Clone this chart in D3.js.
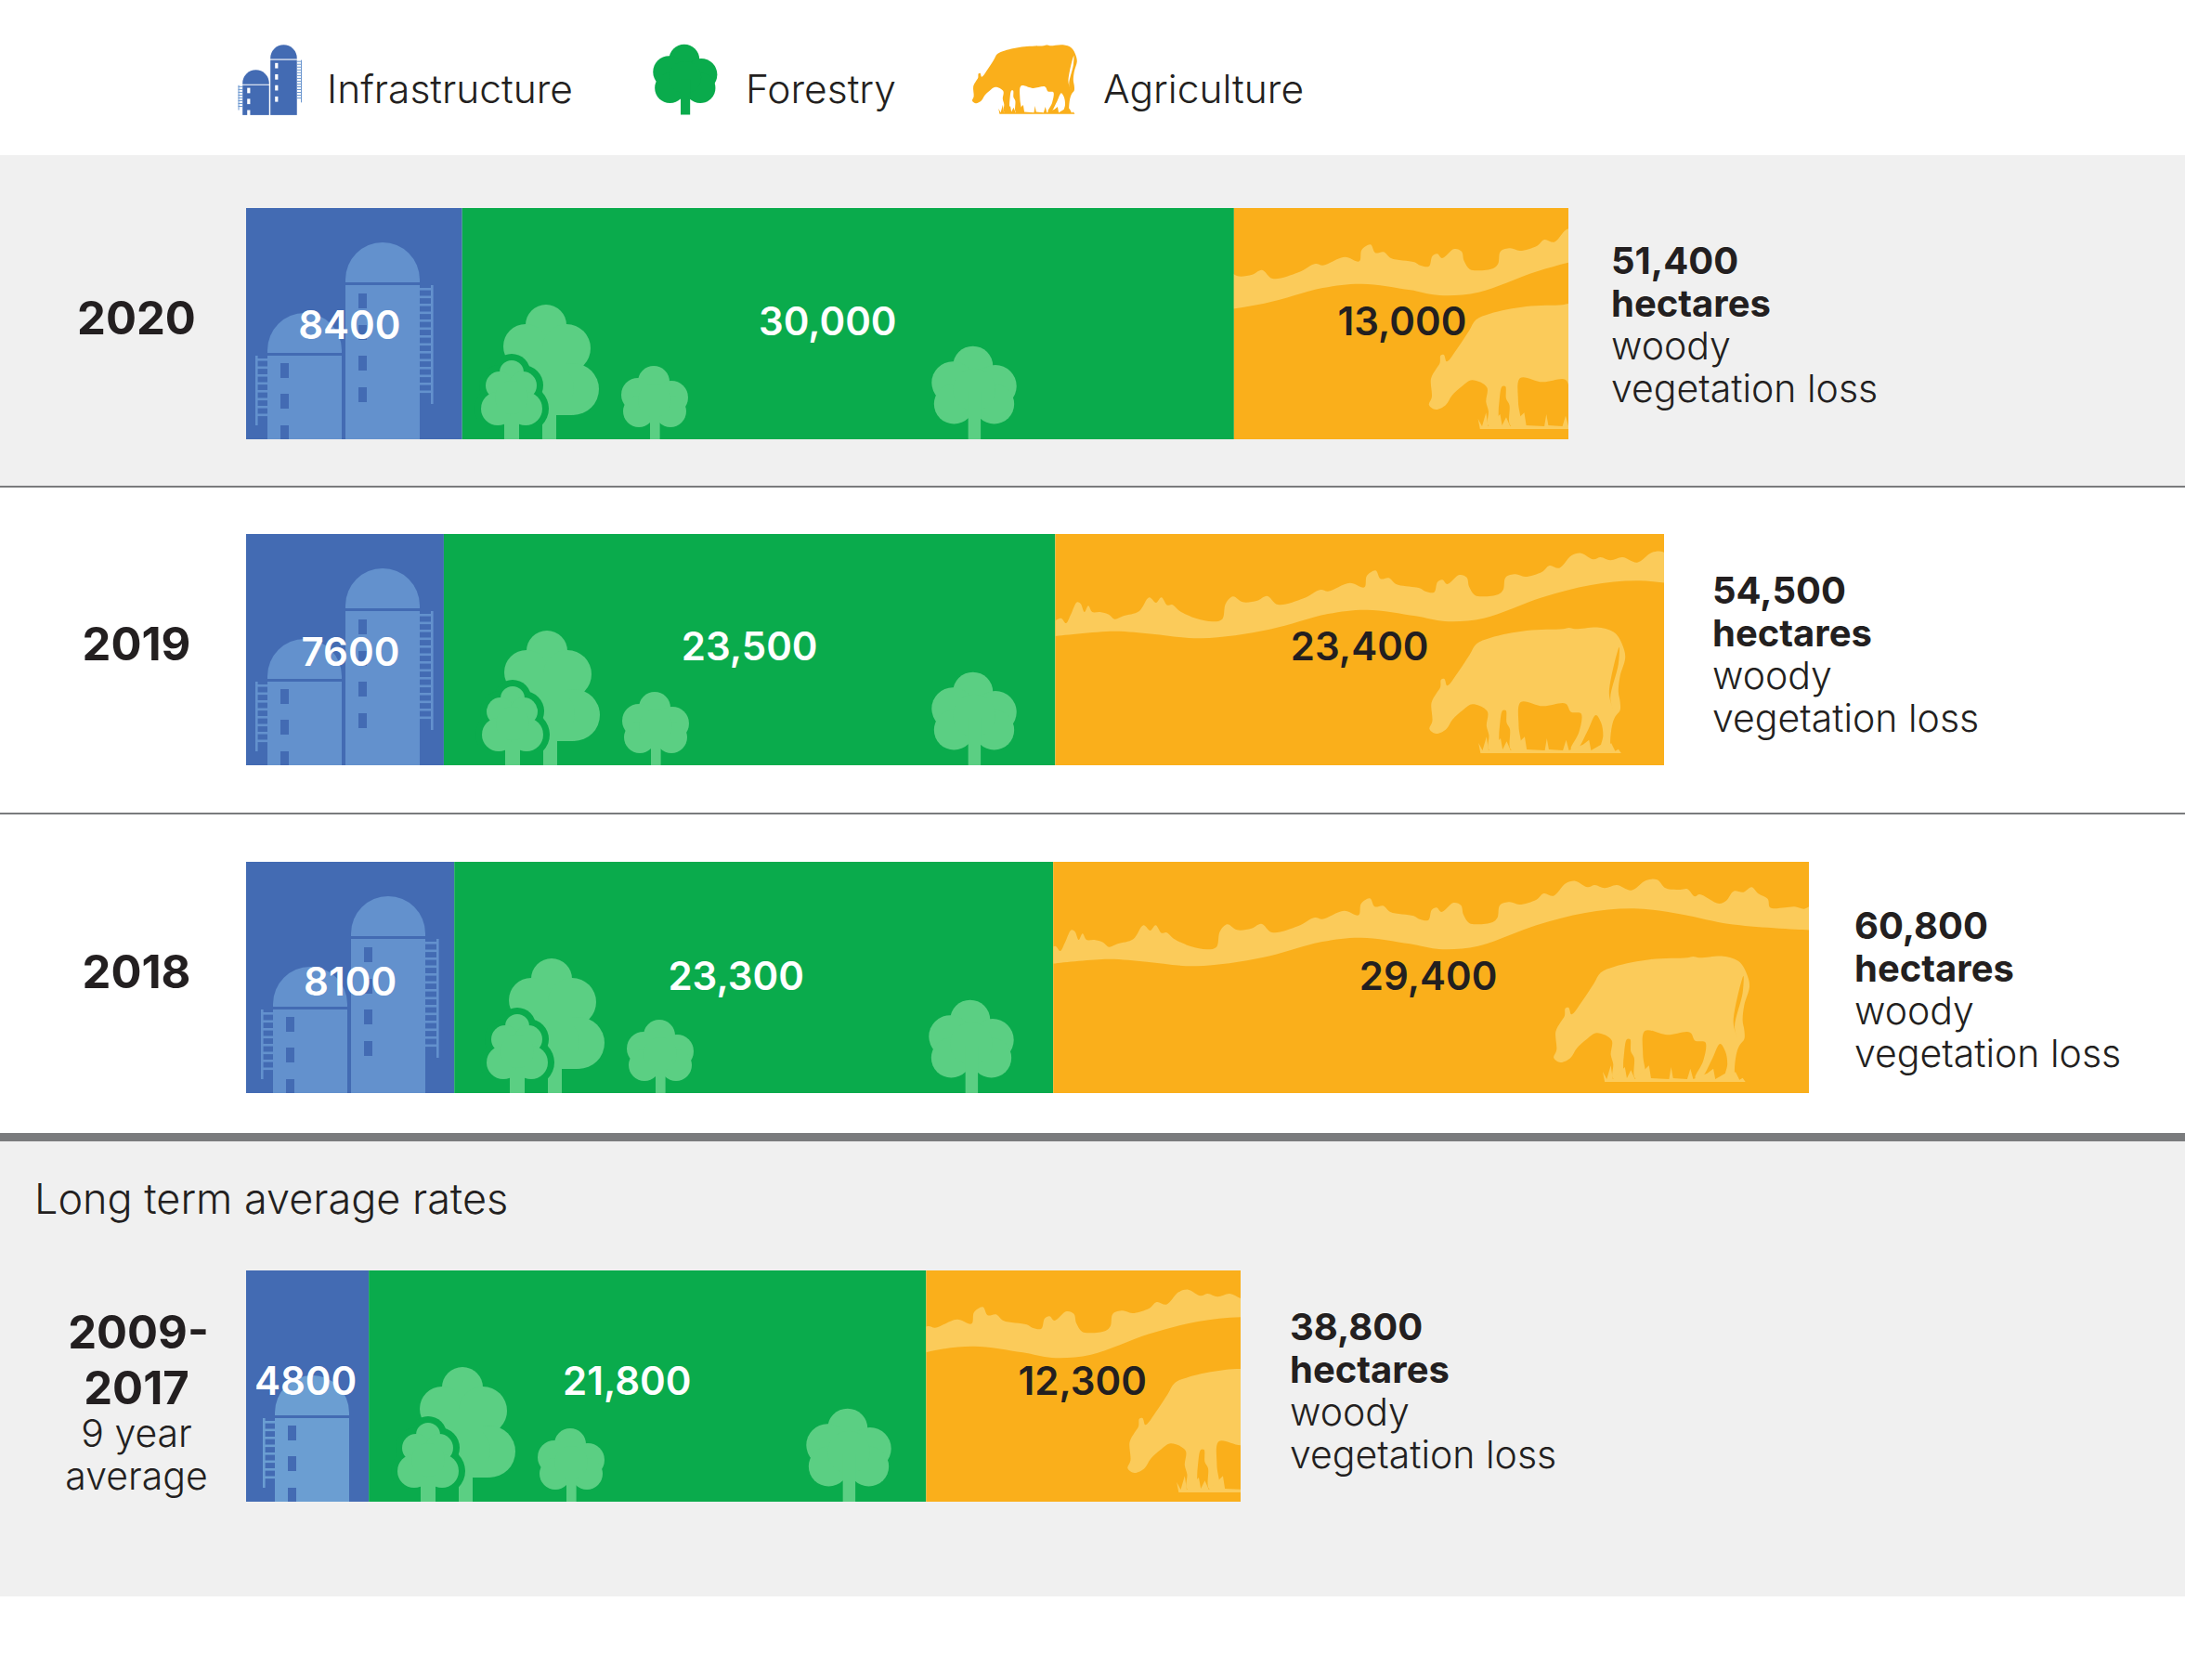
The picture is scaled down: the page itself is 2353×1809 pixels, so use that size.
<!DOCTYPE html>
<html>

<head>
    <title>Woody vegetation loss</title>
    <script src="https://d3js.org/d3.v7.min.js"></script>
    <style>
        html, body { margin: 0; padding: 0; background: #fff; }
        svg { display: block; }
        text { font-family: Inter, "Noto Sans", sans-serif; fill: #231f20; }
    </style>
</head>

<body>
    <script>
        // chart values
        const periods = ['2020', '2019', '2018', '2009-2017']
        const categories = ['Infrastructure', 'Forestry', 'Agriculture']
        const infrastructure = [8400, 7600, 8100, 4800]
        const forestry = [30000, 23500, 23300, 21800]
        const agriculture = [13000, 23400, 29400, 12300]
        const totals = ['51,400', '54,500', '60,800', '38,800']

        const colors = { blue: '#436bb3', green: '#0aab4c', orange: '#faaf1b', silo: '#6391cd', silo2: '#6b9ed2', tree: '#5bcf83', cow: '#fbcb5a', grey: '#f0f0f0', rule: '#7a7b7d', ink: '#231f20' }

        // layout of each row, in page pixels
        const barLeft = 265
        const barHeight = 249
        const rowTop = [224, 575, 928, 1368]
        const rowEnd = [1689, 1792, 1948, 1336]
        const totalX = [1735, 1844, 1997, 1389]
        const totalBase = [295, 650, 1011, 1443]
        const hillOffset = [198, 0, 4, 284]
        const cowAt = [[210, 102], [403, 100], [539, 101], [217, 103]]
        const treesAt = [500, 501, 506, 410]
        const bigTreeAt = [1049, 1049, 1046, 914]
        const siloShift = [0, 0, 6, 8]
        const labelShift = [[-5, -22, 1], [6, 0, 0], [0, -19, -3], [-2, -22, -1]]
        const labelBase = [[365, 361, 361], [717, 711, 711], [1072, 1066, 1066], [1502, 1502, 1502]]

        const msm = { width: 2353, height: 1809 }

        const svg = d3.select('body').append('svg')
            .attr('width', msm.width)
            .attr('height', msm.height)

        const defs = svg.append('defs')

        // background bands and rules
        svg.append('rect').attr('y', 167).attr('width', msm.width).attr('height', 356).attr('fill', colors.grey)
        svg.append('rect').attr('y', 1229).attr('width', msm.width).attr('height', 490).attr('fill', colors.grey)
        svg.append('rect').attr('y', 523).attr('width', msm.width).attr('height', 2).attr('fill', colors.rule)
        svg.append('rect').attr('y', 875).attr('width', msm.width).attr('height', 2).attr('fill', colors.rule)
        svg.append('rect').attr('y', 1220).attr('width', msm.width).attr('height', 9).attr('fill', colors.rule)

        // hill silhouette
        const hillTop = [[0, 290], [12, 282], [22, 298], [32, 270], [45, 230], [52, 235], [60, 262], [68, 242], [76, 262], [92, 262], [110, 270], [122, 285], [140, 275], [172, 260], [193, 215], [207, 232], [218, 215], [230, 240], [240, 238], [255, 258], [290, 283], [325, 293], [343, 285], [350, 235], [365, 212], [385, 230], [415, 225], [435, 210], [457, 238], [510, 218], [545, 190], [560, 195], [605, 168], [635, 182], [640, 145], [658, 128], [668, 155], [685, 152], [700, 172], [748, 185], [760, 195], [778, 198], [785, 165], [795, 158], [805, 172], [830, 142], [845, 150], [850, 180], [862, 208], [880, 212], [910, 205], [920, 190], [925, 150], [945, 140], [965, 148], [1000, 132], [1015, 112], [1035, 120], [1060, 80], [1080, 72], [1105, 92], [1120, 85], [1140, 95], [1165, 85], [1195, 102], [1225, 70], [1248, 68], [1265, 95], [1295, 100], [1310, 98], [1325, 122], [1335, 115], [1375, 145], [1390, 135], [1405, 105], [1425, 108], [1442, 92], [1455, 112], [1475, 130], [1480, 158], [1510, 158], [1530, 155], [1550, 162], [1564, 150]]
        const hillBottom = [[1564, 231], [1400, 212], [1300, 180], [1200, 161], [1100, 175], [1000, 215], [880, 282], [800, 292], [740, 275], [640, 255], [560, 268], [440, 318], [300, 347], [200, 333], [120, 324], [0, 340]]
        const hillPx = p => [p[0] / 1.907, (p[1] - 10) / 3]
        const smooth = d3.line().curve(d3.curveCatmullRom.alpha(0.5))
        const hillPath = smooth(hillTop.map(hillPx)) + 'L' + smooth(hillBottom.map(hillPx)).slice(1) + 'Z'

        // cow silhouette
        const cowBody = [[958, 630], [965, 605], [963, 545], [975, 515], [985, 495], [987, 470], [995, 468], [1002, 490], [1030, 445], [1058, 390], [1075, 355], [1110, 335], [1200, 312], [1290, 307], [1305, 303], [1320, 307], [1380, 302], [1420, 320], [1440, 365], [1445, 400], [1432, 460], [1428, 510], [1432, 540], [1432, 570], [1420, 590], [1412, 620], [1408, 680], [1412, 700], [1385, 695], [1390, 650], [1385, 610], [1372, 585], [1350, 640], [1325, 695], [1310, 695], [1330, 640], [1335, 580], [1310, 575], [1297, 548], [1240, 556], [1185, 543], [1180, 620], [1185, 695], [1160, 695], [1158, 630], [1150, 610], [1148, 570], [1140, 570], [1132, 630], [1126, 695], [1105, 695], [1106, 650], [1100, 620], [1102, 573], [1065, 550], [1040, 570], [1015, 600], [1000, 630], [975, 645]]
        const cowTail = [[1430, 365], [1405, 515], [1415, 565], [1408, 530], [1428, 420]]
        const cowGrass = [[1085, 708], [1080, 675], [1090, 699], [1100, 655], [1105, 699], [1135, 660], [1140, 696], [1150, 670], [1160, 699], [1195, 655], [1200, 696], [1245, 699], [1250, 660], [1255, 696], [1290, 699], [1298, 665], [1305, 699], [1340, 680], [1355, 665], [1360, 699], [1385, 680], [1395, 699], [1410, 675], [1420, 701], [1428, 695], [1435, 708]]
        const cowPx = p => [(p[0] - 958) / 2.31, (p[1] - 300) / 3]
        const closedCurve = d3.line().curve(d3.curveCatmullRomClosed.alpha(0.5))
        const cowPath = closedCurve(cowBody.map(cowPx)) + closedCurve(cowTail.map(cowPx))
        const grassPath = d3.line()(cowGrass.map(cowPx)) + 'Z'

        function drawCow(g, color) {
            g.append('path').attr('d', cowPath).attr('fill', color).attr('fill-rule', 'evenodd')
            g.append('path').attr('d', grassPath).attr('fill', color)
        }

        // one silo: x is the left wall, top is the dome top
        function drawSilo(g, x, top, ladderSide, rungTo, windows, color, gap, ladder) {
            const w = 80
            const r = 40
            const domeBase = top + 43
            g.append('path')
                .attr('d', `M${x},${domeBase}V${top + r}A${r},${r} 0 0 1 ${x + w},${top + r}V${domeBase}Z`)
                .attr('fill', color)
            g.append('rect').attr('x', x).attr('y', domeBase + 3).attr('width', w).attr('height', barHeight - domeBase - 3).attr('fill', color)
            // little windows
            windows.forEach(y => {
                g.append('rect').attr('x', x + 14).attr('y', y).attr('width', 9).attr('height', 16).attr('fill', gap)
            })
            // ladder on the outside wall
            const railX = ladderSide > 0 ? x + w + 12 : x - 13
            g.append('rect').attr('x', railX).attr('y', domeBase + 3).attr('width', 2.6).attr('height', rungTo - domeBase - 3).attr('fill', ladder)
            d3.range(domeBase + 6, rungTo - 8, 8.5).forEach(y => {
                g.append('rect')
                    .attr('x', ladderSide > 0 ? x + w : x - 13)
                    .attr('y', y)
                    .attr('width', 13)
                    .attr('height', 2.6)
                    .attr('fill', ladder)
            })
        }

        function drawSiloPair(g, color, gap, ladder) {
            drawSilo(g, 23, 113, -1, 234, [167, 200, 234], color, gap, ladder)
            drawSilo(g, 107, 37, 1, 211, [92, 126, 159, 193], color, gap, ladder)
        }

        // tree blobs, local units with y=0 at the ground
        const bigTreeBlobs = [[88, -123, 22], [66, -100, 24], [110, -98, 26], [117, -54, 28], [90, -55, 28]]
        const smallTreeBlobs = [[51, -72, 13], [38, -58, 15], [63, -58, 15], [36, -33, 18], [66, -33, 18], [51, -45, 18]]
        const thirdTreeBlobs = [[204, -62, 17], [187, -48, 18], [223, -45, 18], [188, -30, 17], [222, -30, 17], [205, -42, 18]]

        function blobs(g, list, color, halo) {
            list.forEach(b => {
                g.append('circle').attr('cx', b[0]).attr('cy', b[1]).attr('r', b[2] + (halo || 0)).attr('fill', color)
            })
        }

        function drawThirdTree(g, color) {
            blobs(g, thirdTreeBlobs, color)
            g.append('rect').attr('x', 200).attr('y', -40).attr('width', 10.6).attr('height', 40).attr('fill', color)
        }

        function drawTrees(g) {
            // big tree
            blobs(g, bigTreeBlobs, colors.tree)
            g.append('rect').attr('x', 84).attr('y', -40).attr('width', 15).attr('height', 40).attr('fill', colors.tree)
            g.append('rect').attr('x', 66).attr('y', -62).attr('width', 50).attr('height', 36).attr('fill', colors.tree)
            g.append('rect').attr('x', 66).attr('y', -100).attr('width', 44).attr('height', 45).attr('fill', colors.tree)
            // small tree in front, with a halo of bar colour
            blobs(g, smallTreeBlobs, colors.green, 7)
            g.append('rect').attr('x', 10).attr('y', -20).attr('width', 73).attr('height', 20).attr('fill', colors.green)
            blobs(g, smallTreeBlobs, colors.tree)
            g.append('rect').attr('x', 43).attr('y', -24).attr('width', 16).attr('height', 24).attr('fill', colors.tree)
            drawThirdTree(g, colors.tree)
        }

        // legend
        const legend = svg.append('g')
        drawSiloPair(legend.append('g').attr('transform', 'translate(253,35) scale(0.357)'), colors.blue, '#fff', colors.silo)
        drawThirdTree(legend.append('g').attr('transform', 'translate(541,123.5) scale(0.96)'), colors.green)
        drawCow(legend.append('g').attr('transform', 'translate(1047,48) scale(0.535,0.55)'), colors.orange)

        const legendX = [352, 803, 1188]
        legend.selectAll('text')
            .data(categories)
            .enter()
            .append('text')
            .attr('x', (d, i) => legendX[i])
            .attr('y', 111)
            .attr('font-size', 42.5)
            .attr('font-weight', 300)
            .text(d => d)

        // the stacked bars
        const table = periods.map((p, i) => ({
            period: p,
            Infrastructure: infrastructure[i],
            Forestry: forestry[i],
            Agriculture: agriculture[i]
        }))
        const stacked = d3.stack().keys(categories)(table)
        const fills = d3.scaleOrdinal().domain(categories).range([colors.blue, colors.green, colors.orange])

        periods.forEach((p, i) => {
            const sum = infrastructure[i] + forestry[i] + agriculture[i]
            const x = d3.scaleLinear().domain([0, sum]).range([barLeft, rowEnd[i]])
            const row = svg.append('g')
            const top = rowTop[i]

            stacked.forEach(layer => {
                const seg = layer[i]
                row.append('rect')
                    .attr('x', x(seg[0]))
                    .attr('y', top)
                    .attr('width', x(seg[1]) - x(seg[0]))
                    .attr('height', barHeight)
                    .attr('fill', fills(layer.key))
            })

            // silo art, clipped to the blue part
            const infSeg = stacked[0][i]
            defs.append('clipPath').attr('id', 'inf' + i).append('rect')
                .attr('x', x(infSeg[0])).attr('y', top)
                .attr('width', x(infSeg[1]) - x(infSeg[0])).attr('height', barHeight)
            const siloG = row.append('g').attr('clip-path', `url(#inf${i})`)
                .append('g').attr('transform', `translate(${barLeft + siloShift[i]},${top})`)
            if (i === 3) {
                drawSilo(siloG, 23, 113, -1, 234, [167, 200, 234], colors.silo2, colors.blue, colors.silo2)
            } else {
                drawSiloPair(siloG, colors.silo, colors.blue, colors.silo)
            }

            // trees
            drawTrees(row.append('g').attr('transform', `translate(${treesAt[i]},${top + barHeight})`))
            drawThirdTree(row.append('g').attr('transform', `translate(${bigTreeAt[i] - 205 * 1.27},${top + barHeight}) scale(1.27)`), colors.tree)

            // hills and cow, clipped to the orange part
            const agSeg = stacked[2][i]
            const agLeft = x(agSeg[0])
            defs.append('clipPath').attr('id', 'ag' + i).append('rect')
                .attr('x', agLeft).attr('y', top)
                .attr('width', x(agSeg[1]) - agLeft).attr('height', barHeight)
            const agG = row.append('g').attr('clip-path', `url(#ag${i})`)
            agG.append('path')
                .attr('d', hillPath)
                .attr('fill', colors.cow)
                .attr('transform', `translate(${agLeft - hillOffset[i]},${top})`)
            drawCow(agG.append('g').attr('transform', `translate(${agLeft + cowAt[i][0]},${top + cowAt[i][1]})`), colors.cow)

            // value labels
            stacked.forEach((layer, k) => {
                const seg = layer[i]
                row.append('text')
                    .attr('x', (x(seg[0]) + x(seg[1])) / 2 + labelShift[i][k])
                    .attr('y', labelBase[i][k])
                    .attr('text-anchor', 'middle')
                    .attr('font-size', 42)
                    .attr('font-weight', 600)
                    .style('fill', k === 2 ? colors.ink : '#fff')
                    .text(seg.data[layer.key] >= 10000 ? d3.format(',')(seg.data[layer.key]) : seg.data[layer.key])
            })

            // total at the right hand side
            const totalLines = [totals[i], 'hectares', 'woody', 'vegetation loss']
            totalLines.forEach((t, k) => {
                row.append('text')
                    .attr('x', totalX[i])
                    .attr('y', totalBase[i] + k * 46)
                    .attr('font-size', k < 2 ? 40 : 41)
                    .attr('font-weight', k < 2 ? 700 : 300)
                    .text(t)
            })
        })

        // period names on the left
        const yearLines = [
            [['2020', 147, 360, 700]],
            [['2019', 147, 711, 700]],
            [['2018', 147, 1064, 700]],
            [['2009-', 149, 1452, 700], ['2017', 147, 1512, 700], ['9 year', 147, 1558, 300], ['average', 147, 1604, 300]]
        ]
        yearLines.forEach(lines => {
            lines.forEach(l => {
                svg.append('text')
                    .attr('x', l[1])
                    .attr('y', l[2])
                    .attr('text-anchor', 'middle')
                    .attr('font-size', l[3] === 700 ? 49 : 41)
                    .attr('font-weight', l[3])
                    .text(l[0])
            })
        })

        svg.append('text')
            .attr('x', 37)
            .attr('y', 1307)
            .attr('font-size', 45)
            .attr('font-weight', 300)
            .text('Long term average rates')
    </script>
</body>
</html>
